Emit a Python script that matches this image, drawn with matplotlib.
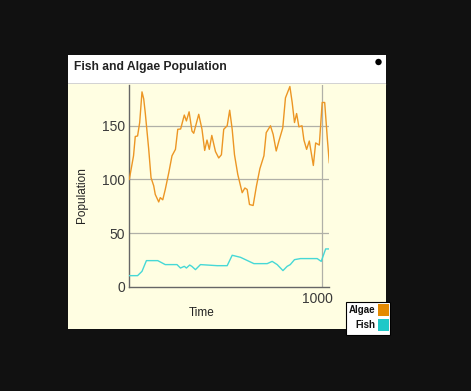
import matplotlib
matplotlib.use("Agg")
import matplotlib.pyplot as plt
from matplotlib.patches import Rectangle, Ellipse
from matplotlib.transforms import ScaledTranslation

plt.rcParams['font.family'] = ['Liberation Sans', 'DejaVu Sans']

title = "Fish and Algae Population"
series_names = ["Algae", "Fish"]
series_colors = ["#EC9624", "#46D8D6"]
swatch_colors = ["#E48A00", "#1EC8C8"]

algae_t = [0, 22, 31, 43, 54, 66, 75, 83, 101, 113, 127, 135, 153, 161, 174, 187, 205, 222,
           240, 252, 267, 286, 297, 311, 326, 335, 361, 378, 392, 404, 416, 429, 448, 465,
           479, 491, 509, 522, 535, 547, 564, 587, 601, 613, 625, 644, 661, 679, 700, 712,
           734, 748, 764, 778, 798, 812, 835, 847, 859, 870, 882, 898, 908, 922, 936, 957,
           969, 988, 1003, 1016, 1030, 1040]
algae_v = [100, 122, 140, 140.5, 153, 181.6, 175, 162, 128, 101.6, 94, 86, 79, 83, 81, 90.6,
           106, 122, 128, 146.7, 147, 160, 154.5, 163, 145, 143, 160.7, 146.7, 127, 136.7,
           128, 141, 126, 120, 123, 146.7, 150, 164.5, 146.7, 123, 104.7, 87.6, 92, 90.6,
           76.6, 75.7, 93.7, 110, 122, 143.6, 150, 142, 126.5, 135.8, 148, 176, 186.6, 171.7,
           153, 161.4, 149, 150, 136.7, 128, 135.8, 113, 134, 132, 171.7, 171.7, 137.4, 115.6]

fish_t = [0, 43, 66, 89, 148, 187, 248, 266, 286, 297, 314, 325, 344, 370, 457, 509, 535,
          578, 648, 717, 743, 769, 799, 821, 837, 859, 890, 977, 998, 1021, 1040]
fish_v = [10.3, 10.3, 14.3, 24.3, 24.3, 20.6, 20.6, 17.4, 19, 17.4, 20.2, 19, 15.9, 20.6,
          19.6, 19.6, 29.3, 27.4, 21.5, 21.5, 23.6, 20.6, 15, 19, 20.6, 25.2, 26.2, 26.2,
          23.6, 35.2, 35.2]

y_ticks = [0, 50, 100, 150]
x_ticks = [1000]

W, H = 471, 391
fig = plt.figure(figsize=(W / 100, H / 100), dpi=100)
fig.patch.set_facecolor("#111111")

def fx(x):
    return x / W

def fy(y):
    return 1 - y / H

# panel
fig.patches.append(Rectangle((fx(68), fy(329)), fx(386) - fx(68), fy(55) - fy(329),
                             transform=fig.transFigure, facecolor="white", edgecolor="none", zorder=-2))
fig.patches.append(Rectangle((fx(68), fy(329)), fx(386) - fx(68), fy(84) - fy(329),
                             transform=fig.transFigure, facecolor="#FFFEE2", edgecolor="none", zorder=-1))
fig.add_artist(plt.Line2D([fx(68), fx(386)], [fy(83.5), fy(83.5)], transform=fig.transFigure,
                          color="#222222", lw=1.0, zorder=-1))
fig.add_artist(Ellipse((fx(378.5), fy(62)), 6.4 / W, 6.4 / H, transform=fig.transFigure,
                       facecolor="black", edgecolor="none"))
fig.text(fx(74), fy(67), title, fontsize=8.7, fontweight="bold", color="#222222",
         ha="left", va="center")

ax = fig.add_axes([fx(129.3), fy(286.7), fx(329.3) - fx(129.3), fy(85) - fy(286.7)])
ax.set_zorder(2)
ax.set_facecolor("none")
ax.set_xlim(0, 1040)
ax.set_ylim(0, 188)
for yv in y_ticks[1:]:
    ax.axhline(yv, color="#B0B0A8", lw=0.9, zorder=1)
for xv in x_ticks:
    ax.axvline(xv, color="#B0B0A8", lw=0.9, zorder=1)

ax.plot(algae_t, algae_v, color=series_colors[0], lw=1.0, zorder=3)
ax.plot(fish_t, fish_v, color=series_colors[1], lw=1.0, zorder=3)

for s in ["top", "right"]:
    ax.spines[s].set_visible(False)
for s in ["left", "bottom"]:
    ax.spines[s].set_color("#666666")
    ax.spines[s].set_linewidth(1.0)

ax.set_yticks(y_ticks)
ax.set_yticklabels([str(v) for v in y_ticks])
ax.set_xticks(x_ticks)
ax.set_xticklabels([str(v) for v in x_ticks])
ax.tick_params(axis="both", length=0, labelsize=10, labelcolor="#3a3a3a")
ax.tick_params(axis="y", pad=3)
ax.tick_params(axis="x", pad=4)
for lbl in ax.get_xticklabels():
    lbl.set_transform(lbl.get_transform() + ScaledTranslation(-4 / 100, 0, fig.dpi_scale_trans))

fig.text(fx(82), fy(195), "Population", rotation=90, fontsize=8.5, color="#222222",
         ha="center", va="center")
fig.text(fx(201.5), fy(313), "Time", fontsize=8.5, color="#222222", ha="center", va="center")

# legend
fig.patches.append(Rectangle((fx(346), fy(335)), fx(390) - fx(346), fy(302) - fy(335),
                             transform=fig.transFigure, facecolor="white", edgecolor="black",
                             lw=0.8, zorder=5))
for i, (name, c) in enumerate(zip(series_names, swatch_colors)):
    top = 304 + i * 15
    fig.patches.append(Rectangle((fx(377.5), fy(top + 12)), fx(389) - fx(377.5), fy(top) - fy(top + 12),
                                 transform=fig.transFigure, facecolor=c, edgecolor="none", zorder=6))
    fig.text(fx(375.5), fy(top + 6), name, fontsize=7, fontweight="bold", color="#111111",
             ha="right", va="center", zorder=7)

fig.savefig("out.png", dpi=100, facecolor=fig.get_facecolor())
